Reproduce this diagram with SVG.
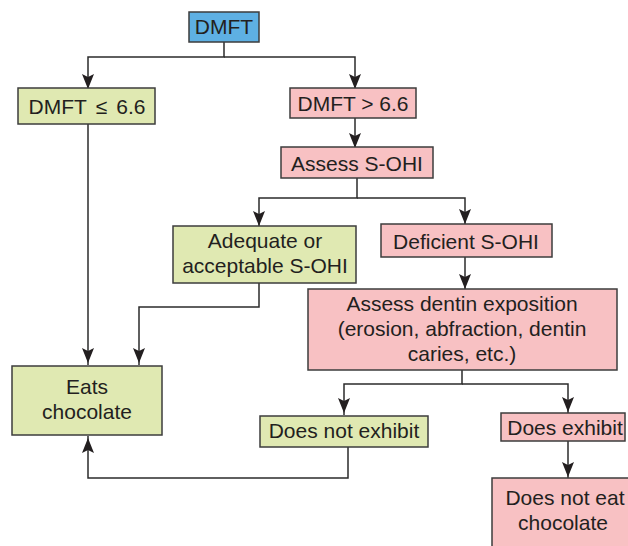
<svg xmlns="http://www.w3.org/2000/svg" width="628" height="546" viewBox="0 0 628 546">
<style>
.box{stroke:#3d3d3d;stroke-width:1.5}
.g{fill:#e0e9b2}
.p{fill:#f8c1c3}
.b{fill:#5eb0e3}
.t{font-family:"Liberation Sans",Arial,sans-serif;font-size:21px;fill:#231f20;text-anchor:middle}
.c{fill:none;stroke:#2b2b2b;stroke-width:1.5}
.ah{fill:#231f20}
</style>
<g id="connectors">
<path class="c" d="M224,42 V57 H88 V88"/>
<path class="c" d="M224,57 H355 V88"/>
<path class="c" d="M355,118 V147"/>
<path class="c" d="M88,124 V365"/>
<path class="c" d="M357,178 V198 H259 V226"/>
<path class="c" d="M357,198 H465 V224"/>
<path class="c" d="M259,283 V307 H139 V365"/>
<path class="c" d="M465,257 V289"/>
<path class="c" d="M462,370 V384 H344 V415"/>
<path class="c" d="M462,384 H568 V413"/>
<path class="c" d="M568,441 V478"/>
<path class="c" d="M348,447 V478 H88 V436"/>
<g class="ah">
<path d="M82,74 L88,77 L94,74 L88,89 Z"/>
<path d="M349,74 L355,77 L361,74 L355,89 Z"/>
<path d="M349,133 L355,136 L361,133 L355,148 Z"/>
<path d="M253,211 L259,214 L265,211 L259,226 Z"/>
<path d="M459,209 L465,212 L471,209 L465,224 Z"/>
<path d="M459,274 L465,277 L471,274 L465,289 Z"/>
<path d="M82,348 L88,351 L94,348 L88,363 Z"/>
<path d="M133,348 L139,351 L145,348 L139,363 Z"/>
<path d="M338,398 L344,401 L350,398 L344,413 Z"/>
<path d="M562,397 L568,400 L574,397 L568,412 Z"/>
<path d="M562,462 L568,465 L574,462 L568,477 Z"/>
<path d="M82,453 L88,450 L94,453 L88,438 Z"/>
</g>
</g>
<g id="dmft">
<rect class="box b" x="189" y="12" width="70" height="30"/>
<text class="t" x="224" y="34">DMFT</text>
</g>
<g id="dmft-le">
<rect class="box g" x="18" y="88" width="137" height="36"/>
<text class="t" x="87" y="114">DMFT<tspan dx="9">≤</tspan><tspan dx="9">6.6</tspan></text>
</g>
<g id="dmft-gt">
<rect class="box p" x="290" y="88" width="126" height="30"/>
<text class="t" x="353" y="111">DMFT &gt; 6.6</text>
</g>
<g id="assess-sohi">
<rect class="box p" x="281" y="147" width="152" height="31"/>
<text class="t" x="357" y="171">Assess S-OHI</text>
</g>
<g id="adequate">
<rect class="box g" x="173" y="226" width="183" height="57"/>
<text class="t" x="265" y="248">Adequate or</text>
<text class="t" x="265" y="273">acceptable S-OHI</text>
</g>
<g id="deficient">
<rect class="box p" x="381" y="224" width="171" height="33"/>
<text class="t" x="466" y="249">Deficient S-OHI</text>
</g>
<g id="assess-dentin">
<rect class="box p" x="308" y="289" width="309" height="81"/>
<text class="t" x="462" y="311">Assess dentin exposition</text>
<text class="t" x="462" y="336">(erosion, abfraction, dentin</text>
<text class="t" x="462" y="361">caries, etc.)</text>
</g>
<g id="eats">
<rect class="box g" x="12" y="366" width="150" height="69"/>
<text class="t" x="87" y="394">Eats</text>
<text class="t" x="87" y="419">chocolate</text>
</g>
<g id="not-exhibit">
<rect class="box g" x="260" y="416" width="168" height="31"/>
<text class="t" x="344" y="438">Does not exhibit</text>
</g>
<g id="exhibit">
<rect class="box p" x="501" y="413" width="124" height="28"/>
<text class="t" x="565" y="435">Does exhibit</text>
</g>
<g id="not-eat">
<rect class="box p" x="492" y="478" width="146" height="74"/>
<text class="t" x="565" y="505">Does not eat</text>
<text class="t" x="563" y="530">chocolate</text>
</g>
</svg>
